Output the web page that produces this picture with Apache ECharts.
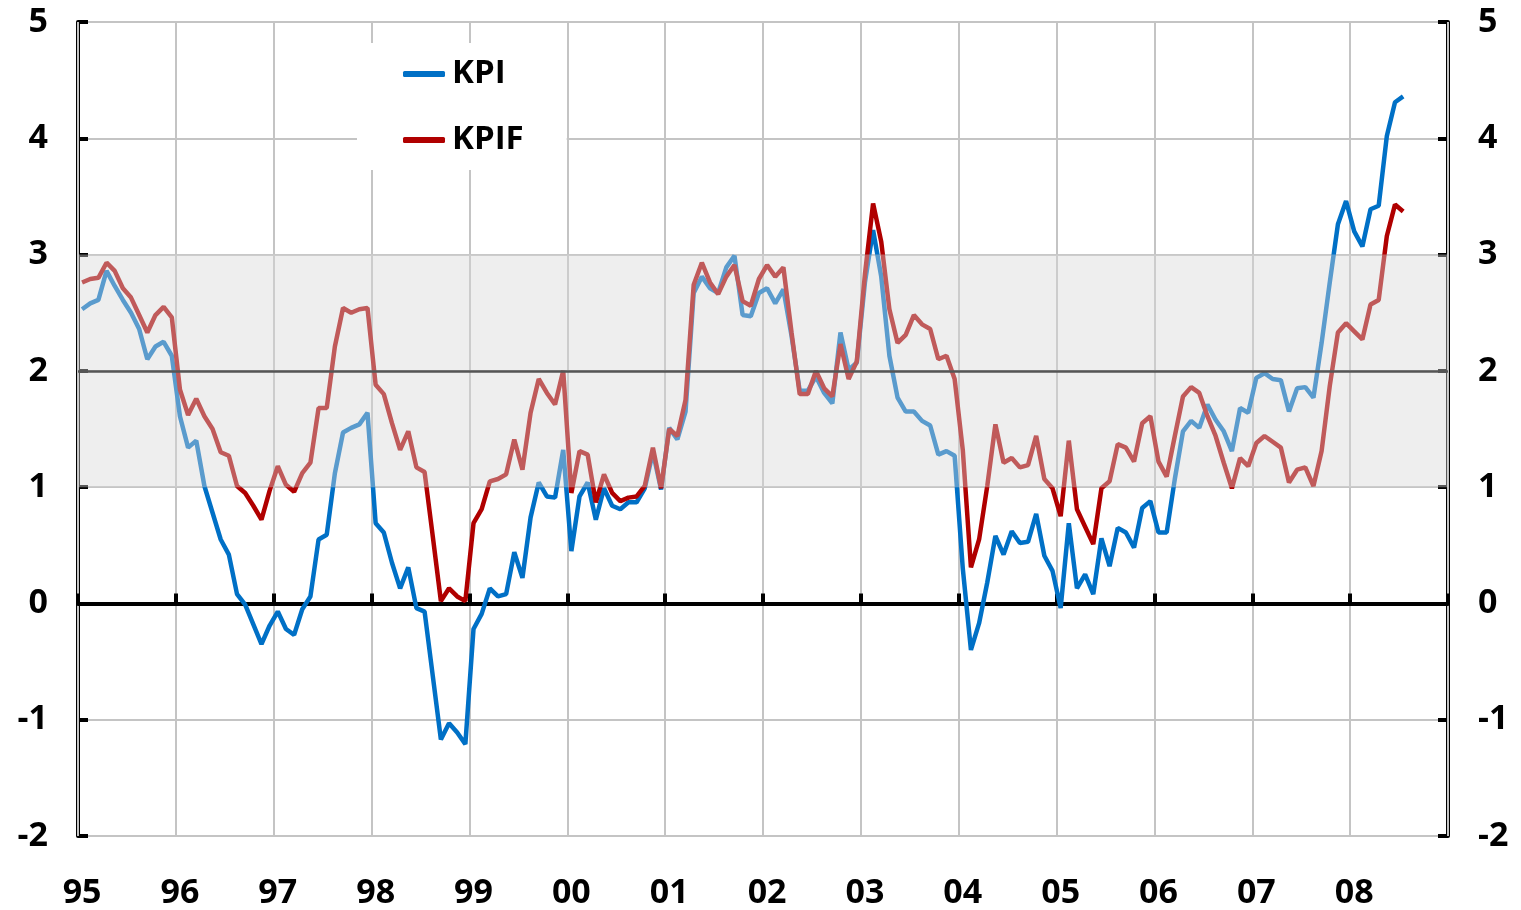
<!DOCTYPE html>
<html>
<head>
<meta charset="utf-8">
<script src="https://cdn.jsdelivr.net/npm/echarts@6/dist/echarts.min.js"></script>
<style>
  html, body { margin: 0; padding: 0; background: #fff; }
  #chart { width: 1521px; height: 910px; }
</style>
</head>
<body>
<div id="chart"></div>
<script>
// year labels, one per year on the axis
const years = ['95', '96', '97', '98', '99', '00', '01', '02', '03', '04', '05', '06', '07', '08']

// monthly values, Jan 1995 - Jul 2008
const kpi = [
  2.53, 2.58, 2.61, 2.86, 2.73, 2.61, 2.50, 2.36, 2.10, 2.21, 2.25, 2.13,
  1.61, 1.34, 1.40, 1.01, 0.78, 0.55, 0.42, 0.08, -0.01, -0.18, -0.35, -0.19,
  -0.07, -0.22, -0.27, -0.05, 0.06, 0.55, 0.59, 1.12, 1.47, 1.51, 1.54, 1.64,
  0.69, 0.61, 0.35, 0.13, 0.31, -0.04, -0.07, -0.62, -1.17, -1.03, -1.11, -1.21,
  -0.22, -0.09, 0.13, 0.06, 0.08, 0.44, 0.22, 0.74, 1.04, 0.92, 0.91, 1.32,
  0.45, 0.92, 1.04, 0.72, 0.99, 0.84, 0.81, 0.87, 0.87, 0.99, 1.30, 0.98,
  1.51, 1.41, 1.65, 2.67, 2.81, 2.71, 2.67, 2.89, 2.99, 2.48, 2.47, 2.67,
  2.71, 2.58, 2.70, 2.30, 1.83, 1.83, 1.95, 1.81, 1.72, 2.33, 2.01, 2.07,
  2.76, 3.21, 2.81, 2.13, 1.77, 1.65, 1.65, 1.57, 1.53, 1.28, 1.31, 1.27,
  0.30, -0.40, -0.17, 0.18, 0.58, 0.42, 0.62, 0.52, 0.53, 0.77, 0.41, 0.28,
  -0.04, 0.69, 0.13, 0.25, 0.08, 0.56, 0.32, 0.65, 0.61, 0.48, 0.82, 0.88,
  0.61, 0.61, 1.07, 1.48, 1.57, 1.51, 1.71, 1.58, 1.48, 1.31, 1.68, 1.64,
  1.94, 1.98, 1.93, 1.92, 1.65, 1.85, 1.86, 1.77, 2.24, 2.76, 3.26, 3.46,
  3.20, 3.07, 3.39, 3.42, 4.02, 4.31, 4.36
]

const kpif = [
  2.76, 2.79, 2.80, 2.93, 2.86, 2.71, 2.63, 2.48, 2.33, 2.48, 2.55, 2.46,
  1.84, 1.62, 1.76, 1.61, 1.50, 1.30, 1.27, 1.01, 0.95, 0.84, 0.72, 0.97,
  1.18, 1.02, 0.96, 1.12, 1.21, 1.68, 1.68, 2.21, 2.54, 2.50, 2.53, 2.54,
  1.88, 1.80, 1.55, 1.32, 1.48, 1.17, 1.13, 0.58, 0.02, 0.13, 0.06, 0.02,
  0.69, 0.81, 1.05, 1.07, 1.11, 1.41, 1.15, 1.64, 1.93, 1.81, 1.71, 2.00,
  0.95, 1.31, 1.28, 0.87, 1.11, 0.95, 0.88, 0.91, 0.92, 1.01, 1.34, 0.99,
  1.50, 1.44, 1.75, 2.74, 2.93, 2.76, 2.66, 2.81, 2.91, 2.60, 2.56, 2.79,
  2.91, 2.81, 2.89, 2.33, 1.80, 1.80, 2.00, 1.85, 1.78, 2.23, 1.93, 2.08,
  2.83, 3.44, 3.11, 2.53, 2.24, 2.31, 2.48, 2.40, 2.36, 2.10, 2.13, 1.93,
  1.32, 0.31, 0.55, 1.01, 1.54, 1.21, 1.25, 1.17, 1.19, 1.44, 1.07, 0.99,
  0.75, 1.40, 0.81, 0.66, 0.51, 0.99, 1.05, 1.37, 1.34, 1.22, 1.55, 1.61,
  1.22, 1.09, 1.44, 1.78, 1.86, 1.81, 1.61, 1.44, 1.21, 0.99, 1.25, 1.18,
  1.38, 1.44, 1.39, 1.34, 1.04, 1.15, 1.17, 1.01, 1.31, 1.87, 2.33, 2.41,
  2.34, 2.27, 2.57, 2.61, 3.16, 3.43, 3.37
]

// target band and target line
const bandLow = 1
const bandHigh = 3
const target = 2

const months = []
years.forEach(y => {
  for (let m = 1; m <= 12; m++) months.push(y + '-' + m)
})

const FONT = '"Open Sans", "DejaVu Sans", sans-serif'
const GRID = '#c4c4c4'

const chart = echarts.init(document.getElementById('chart'))

const yAxisBase = {
  type: 'value',
  min: -2,
  max: 5,
  interval: 1,
  axisLine: { show: true, onZero: false, lineStyle: { color: '#000', width: 4 } },
  axisTick: { show: true, inside: true, length: 10, lineStyle: { color: '#000', width: 4 } },
  axisLabel: { color: '#000', fontFamily: FONT, fontWeight: 'bold', fontSize: 34, margin: 30 },
}

const option = {
  animation: false,
  backgroundColor: '#fff',
  grid: { left: 78, right: 73, top: 22, bottom: 74, containLabel: false },
  legend: {
    data: ['KPI', 'KPIF'],
    orient: 'vertical',
    left: 357,
    top: 43,
    padding: [13, 43, 12, 46],
    backgroundColor: '#fff',
    itemWidth: 42,
    itemHeight: 6,
    itemGap: 30,
    icon: 'roundRect',
    textStyle: { color: '#000', fontFamily: FONT, fontWeight: 'bold', fontSize: 33, lineHeight: 36, padding: [0, 0, 0, 2] },
  },
  xAxis: [
    {
      type: 'category',
      data: months,
      boundaryGap: true,
      axisLine: { show: true, onZero: true, lineStyle: { color: '#000', width: 4 } },
      axisTick: { show: true, inside: true, interval: 11, length: 10, lineStyle: { color: '#000', width: 4 } },
      axisLabel: { show: false },
      splitLine: { show: true, interval: 11, lineStyle: { color: GRID, width: 2 } },
      z: 3,
    },
    {
      type: 'category',
      data: months,
      boundaryGap: true,
      position: 'bottom',
      axisLine: { show: false, onZero: false },
      axisTick: { show: false },
      splitLine: { show: false },
      axisLabel: {
        interval: 11,
        color: '#000',
        fontFamily: FONT,
        fontWeight: 'bold',
        fontSize: 34,
        margin: 40,
        formatter: v => v.split('-')[0],
      },
    },
  ],
  yAxis: [
    Object.assign({}, yAxisBase, {
      position: 'left',
      splitLine: { show: true, lineStyle: { color: GRID, width: 2 } },
    }),
    Object.assign({}, yAxisBase, {
      position: 'right',
      splitLine: { show: false },
    }),
  ],
  series: [
    {
      name: 'KPI',
      type: 'line',
      data: kpi,
      showSymbol: false,
      color: '#0070c6',
      lineStyle: { width: 4.5, color: '#0070c6' },
      z: 4,
    },
    {
      name: 'KPIF',
      type: 'line',
      data: kpif,
      showSymbol: false,
      color: '#b00000',
      lineStyle: { width: 4.5, color: '#b00000' },
      z: 4,
    },
    {
      // shaded target band drawn over the lines, plus the target line
      type: 'line',
      data: [],
      silent: true,
      z: 6,
      markArea: {
        silent: true,
        z: 10,
        itemStyle: { color: 'rgba(215,215,215,0.42)' },
        data: [[{ yAxis: bandLow }, { yAxis: bandHigh }]],
      },
      markLine: {
        silent: true,
        z: 11,
        symbol: 'none',
        label: { show: false },
        lineStyle: { color: '#555', width: 2.5, type: 'solid' },
        data: [{ yAxis: target }],
      },
    },
  ],
}

chart.setOption(option)
</script>
</body>
</html>
